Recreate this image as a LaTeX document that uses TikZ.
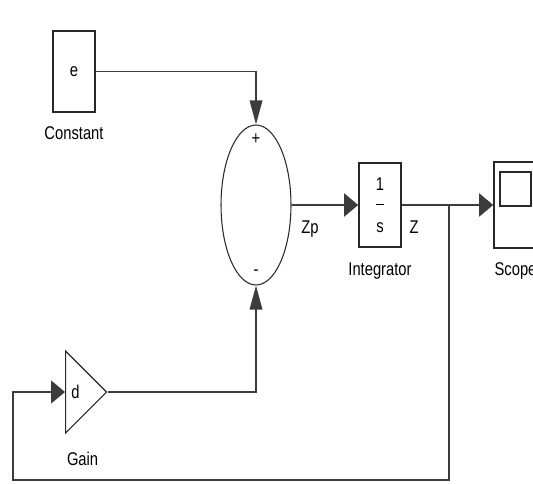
\documentclass[tikz,border=0pt]{standalone}
\usepackage{fontspec}
\usepackage{tikz}
\usetikzlibrary{arrows.meta,positioning,shapes.geometric}
\newfontfamily\lblfont[FakeStretch=0.8]{Liberation Sans}
\definecolor{wire}{RGB}{60,60,60}
\definecolor{edge}{RGB}{40,40,40}

\begin{document}
\begin{tikzpicture}[x=0.02cm, y=-0.02cm, font=\lblfont\fontsize{10.5}{12}\selectfont,
  blk/.style={draw=edge, line width=0.9pt, fill=white, inner sep=0pt},
  lbl/.style={inner sep=0pt},
  sig/.style={draw=wire, line width=1pt},
  sigh/.style={sig, -{Triangle[length=0.28cm, width=0.46cm]}},
  sigv/.style={sig, -{Triangle[length=0.48cm, width=0.25cm]}}]
  \useasboundingbox (0,0) rectangle (533,483);
  \clip (0,0) rectangle (533,483);

  % blocks
  \node[blk, minimum width=0.84cm, minimum height=1.62cm] (const) at (74,71.5) {e};
  \node[lbl, below=0.26cm of const] (constlbl) {Constant};
  \node[draw=edge, line width=0.6pt, ellipse, minimum width=1.4cm, minimum height=3.2cm, inner sep=0pt] (sum) at (256,205) {};
  \node[lbl, below=0.18cm of sum.north] (plus) {+};
  \node[lbl, above=0.2cm of sum.south] (minus) {-};
  \node[blk, minimum width=0.84cm, minimum height=1.68cm, align=center] (int) at (380,205)
    {1\\[-1pt]\rule[0.5ex]{4pt}{0.6pt}\\[1pt]s};
  \node[lbl, below=0.3cm of int] (intlbl) {Integrator};
  \node[blk, minimum width=0.86cm, minimum height=1.72cm] (scope) at (515.5,205) {};
  \node[blk, line width=0.7pt, minimum width=0.62cm, minimum height=0.68cm] (screen) at (515.5,189) {};
  \node[lbl, below=0.26cm of scope] (scopelbl) {Scope};
  \node[draw=edge, line width=0.7pt, isosceles triangle, isosceles triangle stretches,
    minimum width=1.64cm, minimum height=0.82cm, inner sep=0pt, anchor=west] (gain) at (65,392) {};
  \node[lbl, right=0.12cm of gain.west] (gainval) {d};
  \node[lbl, below=0.7cm of gain] (gainlbl) {Gain};

  % signals
  \draw[sigv] (const.east) -| (sum.north);
  \draw[sigh] (sum.east) -- node[lbl, below=0.3cm, xshift=-0.3cm] (zp) {Zp} (int.west);
  \coordinate (tap) at (449,205);
  \coordinate (corner) at (13,480);
  \draw[sigh] (int.east) -- (scope.west);
  \node[lbl, below=0.3cm] (zlbl) at (414,205) {Z};
  \draw[sigh] (tap) |- (corner) |- (gain.west);
  \draw[sigv] (gain.apex) -| (sum.south);
\end{tikzpicture}
\end{document}
